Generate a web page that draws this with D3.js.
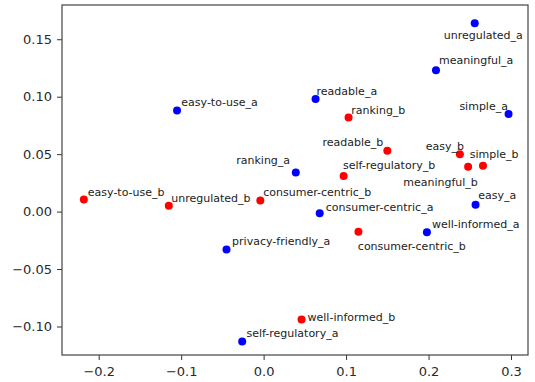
<!DOCTYPE html>
<html>
<head>
<meta charset="utf-8">
<script src="https://cdn.jsdelivr.net/npm/d3@7"></script>
<style>
  body { margin: 0; background: #fff; }
  svg { display: block; }
  .tick text { font-family: "DejaVu Sans", sans-serif; font-size: 13px; fill: #2a2a2a; }
  .lbl { font-family: "DejaVu Sans", sans-serif; font-size: 11px; fill: #222; }
</style>
</head>
<body>
<script>
// words and their two coordinates
var names = ["unregulated_a", "meaningful_a", "readable_a", "simple_a", "ranking_b",
  "readable_b", "easy_b", "simple_b", "meaningful_b", "self-regulatory_b", "ranking_a",
  "easy-to-use_a", "easy-to-use_b", "unregulated_b", "consumer-centric_b", "privacy-friendly_a",
  "self-regulatory_a", "consumer-centric_a", "easy_a", "consumer-centric_b", "well-informed_a",
  "well-informed_b"]
var xVals = [0.256, 0.209, 0.063, 0.297, 0.103, 0.150, 0.238, 0.266, 0.248, 0.097, 0.039,
  -0.105, -0.218, -0.115, -0.004, -0.045, -0.026, 0.068, 0.257, 0.115, 0.198, 0.046]
var yVals = [0.164, 0.123, 0.098, 0.085, 0.082, 0.053, 0.050, 0.040, 0.039, 0.031, 0.034,
  0.088, 0.0105, 0.005, 0.0096, -0.033, -0.113, -0.0015, 0.006, -0.0175, -0.018, -0.094]
var xTicks = [-0.2, -0.1, 0.0, 0.1, 0.2, 0.3]
var yTicks = [-0.10, -0.05, 0.00, 0.05, 0.10, 0.15]

// where each label sits next to its dot (pixels), like adjustText left them
var labelPos = [[-31, 12.3, "start"], [3, -10, "start"], [1, -8.3, "start"], [-0.6, -7.7, "end"],
  [2.7, -7.3, "start"], [-4, -8.6, "end"], [4, -8.3, "end"], [-13.3, -11, "start"],
  [9.7, 15, "end"], [-0.6, -11, "start"], [-5.7, -12.3, "end"], [4.3, -8.3, "start"],
  [4, -7.3, "start"], [2.4, -7.7, "start"], [3, -8.3, "start"], [5.6, -8.3, "start"],
  [4.3, -8, "start"], [6, -6, "start"], [2.6, -9.3, "start"], [-0.6, 14, "start"],
  [5, -8.4, "start"], [6, -2.3, "start"]]

var W = 535, H = 382
var svg = d3.select("body").append("svg").attr("width", W).attr("height", H)

var x = d3.scaleLinear().domain([-0.2445, 0.3206]).range([62, 528])
var y = d3.scaleLinear().domain([-0.1248, 0.1798]).range([355, 5])

var fmt = function(d) { return d3.format(".1f")(d).replace("-", "\u2212") }
var fmtY = function(d) { return d3.format(".2f")(d).replace("-", "\u2212") }

var xAxis = svg.append("g").attr("transform", "translate(0,355)")
  .call(d3.axisBottom(x).tickValues(xTicks).tickFormat(fmt).tickSize(5).tickPadding(7))
var yAxis = svg.append("g").attr("transform", "translate(62,0)")
  .call(d3.axisLeft(y).tickValues(yTicks).tickFormat(fmtY).tickSize(5).tickPadding(5))

svg.selectAll(".domain").remove()
svg.selectAll(".tick line").attr("stroke", "#333")

svg.append("rect")
  .attr("x", 62).attr("y", 5)
  .attr("width", 466).attr("height", 350)
  .attr("fill", "none")
  .attr("stroke", "#444")
  .attr("stroke-width", 1.2)

var pts = names.map(function(n, i) {
  return { name: n, x: xVals[i], y: yVals[i], lp: labelPos[i] }
})

svg.selectAll("circle.pt").data(pts).enter().append("circle")
  .attr("class", "pt")
  .attr("cx", function(d) { return x(d.x) })
  .attr("cy", function(d) { return y(d.y) })
  .attr("r", 4)
  .attr("fill", function(d) { return d.name.slice(-2) == "_a" ? "#0000ff" : "#ff0000" })

svg.selectAll("text.lbl").data(pts).enter().append("text")
  .attr("class", "lbl")
  .attr("x", function(d) { return x(d.x) + d.lp[0] })
  .attr("y", function(d) { return y(d.y) + d.lp[1] })
  .attr("dy", "0.35em")
  .attr("text-anchor", function(d) { return d.lp[2] })
  .text(function(d) { return d.name })
</script>
</body>
</html>
